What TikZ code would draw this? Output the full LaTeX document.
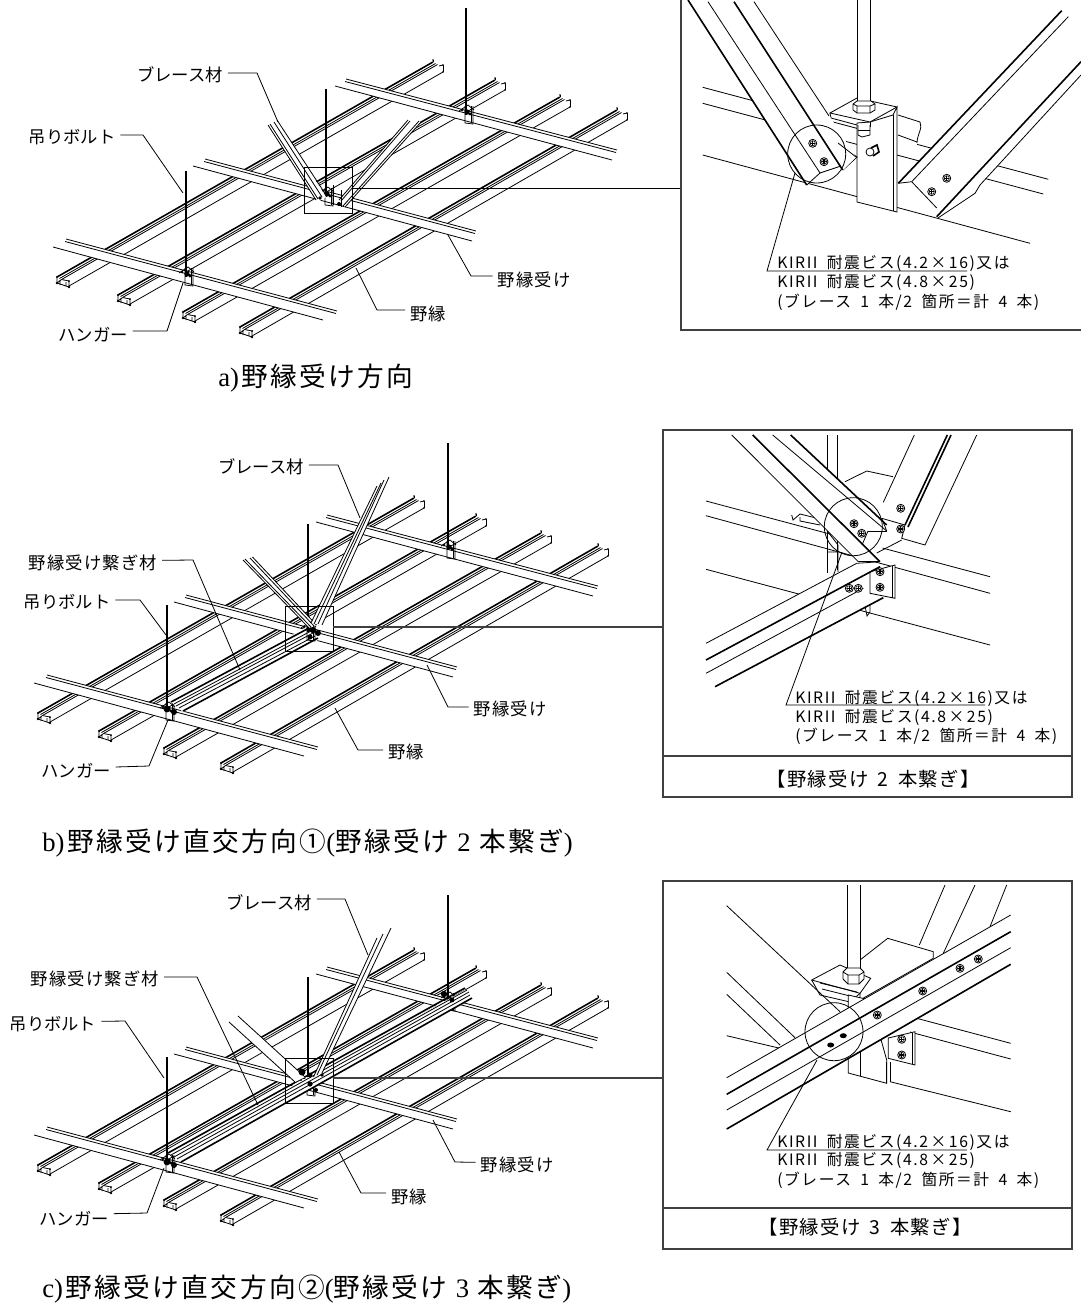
\documentclass[tikz,border=0pt]{standalone}
\usepackage{fontspec}
\setmainfont{Liberation Sans}
\newfontfamily\jpf{Noto Sans CJK JP}
\newfontfamily\jpl[LetterSpace=7]{Noto Sans CJK JP}
\newfontfamily\jpd[LetterSpace=10]{Noto Sans CJK JP}
\newfontfamily\jpc[LetterSpace=9]{Noto Sans CJK JP}
\newfontfamily\latc{Liberation Serif}
\newcommand\szl{\fontsize{13pt}{15pt}\selectfont}
\newcommand\szf{\fontsize{14.5pt}{16pt}\selectfont}
\newcommand\szc{\fontsize{20pt}{22pt}\selectfont}
\newcommand\szd{\fontsize{11.8pt}{13pt}\selectfont}
\newcommand\wsp{\hspace{7pt}}
\tikzset{
 thn/.style={line width=0.6pt,black},
 thk/.style={line width=1.2pt,black},
 ldr/.style={line width=0.6pt,black},
 boxl/.style={line width=0.9pt,black!75},
 kat/.style={font=\jpf\szl,inner ysep=0pt,inner xsep=3.5pt,black},
 kan/.style={font=\jpl\szl,inner ysep=0pt,inner xsep=3.5pt,black},
 captxt/.style={font=\jpc\szc,inner sep=0pt,anchor=west,black},
 det/.style={font=\jpd\szd,inner sep=0pt,anchor=west,black},
 foot/.style={font=\jpl\szf,inner sep=0pt,black},
 wf/.style={fill=white,draw=none},
}
% one furring channel: front point, far point
\newcommand\chan[4]{%
 \draw[thk] (#1,#2)--(#3,#4);
 \draw[thn] ([shift={(2.5,1.5)}]#1,#2)--([shift={(2.5,1.5)}]#3,#4);
 \draw[thn] ([shift={(4.5,2.5)}]#1,#2)--([shift={(4.5,2.5)}]#3,#4);
 \draw[thn] ([shift={(12,9)}]#1,#2)--([shift={(10,10)}]#3,#4);
 \draw[thn] (#1,#2)--([shift={(0,6)}]#1,#2)--([shift={(12,10)}]#1,#2)--([shift={(12,4)}]#1,#2)--([shift={(4.5,2.5)}]#1,#2);
 \draw[thn] ([shift={(0,6)}]#1,#2)--([shift={(4.5,2.5)}]#1,#2) ([shift={(3,3)}]#1,#2)--([shift={(3,8)}]#1,#2) ([shift={(9,5)}]#1,#2)--([shift={(9,9)}]#1,#2);
 \fill (#1,#2) circle[radius=1.1];
 \fill ([shift={(0,6)}]#1,#2) circle[radius=1.3];
 \fill ([shift={(12,10)}]#1,#2) circle[radius=1.3];
 \fill ([shift={(12,4)}]#1,#2) circle[radius=1];
 \draw[thn] (#3,#4)--([shift={(0,-2)}]#3,#4);
 \fill ([shift={(0,-2)}]#3,#4) circle[radius=0.9];
 \draw[thn] ([shift={(10,3)}]#3,#4)--([shift={(10,10)}]#3,#4);
 \draw[thn] ([shift={(6,4)}]#3,#4)--([shift={(10,3)}]#3,#4);
 \fill ([shift={(10,3)}]#3,#4) circle[radius=0.9] ([shift={(10,10)}]#3,#4) circle[radius=0.9];
}
% one carrying bar: top-left, top-right, bottom-left, bottom-right
\newcommand\cbar[8]{%
 \fill[wf] (#1,#2)--(#3,#4)--(#7,#8)--(#5,#6)--cycle;
 \draw[thn] (#1,#2)--(#3,#4);
 \draw[thn] ([shift={(-1,2.5)}]#1,#2)--([shift={(-1,2.5)}]#3,#4);
 \draw[thn] (#5,#6)--(#7,#8);
}
% rod and hanger: x, top y, bottom y of the hanger
\newcommand\rodh[3]{%
 \draw[thn] (#1,#2)--(#1,#3-8);
 \draw[thn] (#1+1.5,#2)--(#1+1.5,#3-8);
 \draw[thn] (#1,#3-17)--(#1,#3)--(#1+8,#3+1)--(#1+8,#3-17);
 \draw[thn] (#1+6,#3-17)--(#1+6,#3);
 \fill (#1+2,#3-11) circle[radius=2.6];
 \fill (#1+5,#3-9) circle[radius=1.7];
 \fill (#1-3,#3-13) circle[radius=1.4];
 \draw[thn] (#1-6,#3-12)--(#1+3,#3-18)--(#1+9,#3-13);
}
% the grid shared by the three perspectives
\newcommand\ceilgrid{%
 \chan{57}{277}{433}{62}
 \chan{118}{295}{495}{80}
 \chan{183}{312}{560}{97}
 \chan{240}{327}{617}{110}
 \cbar{66}{239}{337}{311}{53}{247}{323}{320}
 \cbar{205}{159}{476}{231}{193}{166}{472}{241}
 \cbar{346}{79}{617}{150}{335}{86}{612}{160}
}
\newcommand\screw[2]{%
 \draw[thn,fill=white] (#1,#2) circle[radius=4];
 \draw[line width=1pt] (#1-2.5,#2)--(#1+2.5,#2) (#1,#2-2.5)--(#1,#2+2.5);
 \draw[line width=0.4pt] (#1,#2) circle[radius=2.6];
}
\begin{document}
\begin{tikzpicture}[x=0.75pt,y=-0.75pt]
\useasboundingbox (0,0) rectangle (1081,1306);
\fill[white] (0,0) rectangle (1081,1306);

%%%%%%%% a %%%%%%%%
\ceilgrid
\rodh{465}{8}{123}
\rodh{325}{89}{205}
\rodh{185}{171}{285}
% braces
\fill[wf] (268,125)--(277,120)--(326,197)--(318,202)--cycle;
\draw[thn] (268,125)--(316,200) (270,124)--(318,199) (277,120)--(326,195) (274,122)--(322,197);
\fill[wf] (408,120)--(421,122)--(345,207)--(339,200)--cycle;
\draw[thn] (408,120)--(339,200) (410,121)--(341,201) (421,122)--(345,207) (419,121)--(343,206);
\draw[thn] (333,205)--(333,185) (341,190)--(341,207);
\fill (320,198) circle[radius=1.8] (339,204) circle[radius=2];
\draw[thn] (304,167) rectangle (352,213);
\coordinate (rA) at (352,188);
\draw[ldr] (rA)--(681,188);
\draw[boxl] (681,0)--(681,330)--(1081,330);

\node[kat] (A1) at (180,75) {ブレース材};
\draw[ldr] ([yshift=1.5pt]A1.east)--(257,73)--(278,122);
\node[kat] (A2) at (72,137) {吊りボルト};
\draw[ldr] ([yshift=1.5pt]A2.east)--(143,135)--(183,193);
\node[kat] (A3) at (93,335) {ハンガー};
\draw[ldr] ([yshift=3pt]A3.east)--(167,331)--(183,283);
\node[kan] (A4) at (534,280) {野縁受け};
\draw[ldr] ([yshift=3pt]A4.west)--(471,276)--(448,235);
\node[kan] (A5) at (428,314) {野縁};
\draw[ldr] ([yshift=3pt]A5.west)--(377,310)--(356,268);
\node[captxt] (capA) at (218,378) {{\latc a)}\hspace{2pt}野縁受け方向};

% detail a
\begin{scope}
\clip (682,0) rectangle (1081,329);
\draw[thn] (702.7,87.3)--(1048.3,179.3) (702.7,103.3)--(1043.3,194) (702.7,155)--(1030,243.3);
\fill[wf] (897,113) rectangle (917,145);
\draw[thn] (898,115)--(920,122) (898,135)--(917,142);
\draw[thn] (920,122)..controls (923,128) and (917,135)..(917,143);
% hanger
\draw[thn,fill=white] (857,123)--(857,202)--(897,212)--(897,107)--(893,115)--(870,122)--cycle;
\draw[thn] (893,115)--(893,211);
\draw[thn,fill=white] (830,113)--(857,98)--(897,107)--(870,122)--cycle;
\draw[thn] (830,113)--(831,118)--(857,125);
\draw[thn] (870,122)--(870,127);
\draw[thn,fill=white] (858,125)--(858,135)--(862,137)--(870,135)--(870,125);
\draw[thn] (858,130)--(870,130);
\draw[thn,fill=white] (857.3,0)--(857.3,102)--(870,102)--(870,0);
\draw[thn,fill=white] (853,104)--(857,101)--(871,101)--(875,104)--(875,110)--(870,113)--(857,113)--(853,110)--cycle;
\draw[thn] (857,113)--(857,106)--(853,104) (870,113)--(870,106)--(875,104) (857,106)--(870,106);
% bolt
\draw[thk] (871,148)--(877,145)--(879,152)--(873,156);
\draw[thn,fill=white] (870,152) circle[radius=4];
% triangle
\draw[thn] (838,143)--(857,157)--(843,170);
% left brace
\fill[wf] (688,0)--(754,0)--(856,157)--(843,170)--(820,173)--(806.7,185)--cycle;
\draw[thk] (688,0)--(806.7,185);
\draw[thn] (708,1.7)--(820,173);
\draw[thk] (734,1.7)--(842.7,170);
\draw[thn] (754,1.7)--(829,116);
\draw[thn] (838,143)--(856,157);
\draw[thn] (806.7,185)--(820,173)--(841,166);
\screw{812.7}{143.3}
\screw{824}{161.7}
\draw[thn] (816.7,154) circle[radius=29];
% right brace
\fill[wf] (1061.7,10.7)--(1068.3,16.7)--(1081,22)--(1081,75)--(980,185)--(975,193)--(938,218)--(936.7,208)--(911.7,181.7)--(898.3,183.3)--cycle;
\draw[thk] (1061.7,10.7)--(898.3,183.3);
\draw[thn] (1068.3,16.7)--(911.7,181.7);
\draw[thk] (1081,61.7)--(936.7,216.7);
\draw[thn] (1081,75)--(980,185)--(975,193.3)--(938,218);
\draw[thn] (898.3,183.3)--(911.7,181.7)--(936.7,208);
\screw{946.7}{178.3}
\screw{931.7}{191.7}
\end{scope}
\node[det] (Da1) at (777,263) {KIRII\wsp 耐震ビス(4.2\,×\,16)又は};
\node[det] (Da2) at (777,282) {KIRII\wsp 耐震ビス(4.8\,×\,25)};
\node[det] (Da3) at (777,302) {(ブレース\wsp 1\wsp 本/2\wsp 箇所＝計\wsp 4\wsp 本)};
\coordinate (Ca) at (795,173);
\draw[ldr] (967,271)--(767,271)--(Ca);

%%%%%%%% b %%%%%%%%
\begin{scope}[shift={(-19,436)}]
\ceilgrid
\end{scope}
\rodh{447}{443}{558}
\rodh{166}{605}{720}
% connector between hangers
\fill[wf] (171,702)--(309,626)--(318,640)--(183,712)--cycle;
\draw[thk] (171,702)--(309,628);
\draw[thn] (174,704)--(311,631) (176,706)--(313,633);
\draw[thn] (179,708)--(315,636);
\draw[thk] (183,711)--(318,638);
\rodh{307}{524}{640}
\fill[wf] (243,560)--(252.5,557)--(316.5,625)--(309,628)--cycle;
\draw[thn] (243,560)--(309,628) (245,559)--(311,627) (250,558)--(314,626) (252.5,557)--(316.5,625);
\fill[wf] (377,486)--(389,477)--(322,625)--(311,623)--cycle;
\draw[thn] (377,486)--(311,623) (381,483)--(314,624) (384,480)--(318,624) (389,477)--(322,625);
\fill (313,630) circle[radius=3.2] (318,633) circle[radius=3] (310,637) circle[radius=2.5];
\fill (167,709) circle[radius=3.4] (174,712) circle[radius=3];
\draw[thn] (285,606) rectangle (333,651);
\coordinate (rB) at (333,627);
\draw[boxl] (rB)--(663,627);
\draw[boxl] (663,430) rectangle (1072,797);
\draw[boxl] (663,756)--(1072,756);

\node[kat] (B1) at (261,467) {ブレース材};
\draw[ldr] ([yshift=1.5pt]B1.east)--(338,465)--(360,518);
\node[kan] (B2) at (93,563) {野縁受け繋ぎ材};
\draw[ldr] ([yshift=2pt]B2.east)--(193,560)--(240,670);
\node[kat] (B3) at (67,602) {吊りボルト};
\draw[ldr] ([yshift=1.5pt]B3.east)--(140,600)--(166,635);
\node[kat] (B4) at (76,771) {ハンガー};
\draw[ldr] ([yshift=3pt]B4.east)--(149,766)--(168,720);
\node[kan] (B5) at (510,709) {野縁受け};
\draw[ldr] ([yshift=1.5pt]B5.west)--(448,707)--(427,665);
\node[kan] (B6) at (406,752) {野縁};
\draw[ldr] ([yshift=1.5pt]B6.west)--(358,750)--(335,708);
\node[captxt] (capB) at (42,843) {{\latc b)}\hspace{2pt}野縁受け直交方向①{\latc (}野縁受け {\latc 2} 本繋ぎ{\latc )}};

% detail b
\draw[thn] (706,501)--(990,576.7) (706,515.7)--(990,593.3) (706,569.3)--(990,645);
\draw[thn] (827.7,435)--(827.7,573) (837.7,435)--(837.7,570);
\draw[thn] (845,481.7)--(866.7,471)--(893,476.7);
\draw[thn] (791.7,515)--(793,520)--(800,514)--(820,519);
\draw[thn] (800,517)--(800,521)--(820,525);
\draw[thn] (828,532)--(838,545)--(838,572) (828,552)--(838,552);
\draw[thn] (864,601)--(867,616)--(870,612)--(870,600);
% left brace
\fill[wf] (731.7,435)--(790.7,435)--(886.7,525)--(880,561.7)--(858.3,561.7)--cycle;
\draw[thn] (731.7,435)--(858.3,561.7);
\draw[thk] (752.7,435)--(880,561.7);
\draw[thn] (772.7,435)--(886.7,531);
\draw[thk] (790.7,435)--(886.7,525);
\draw[thn] (858.3,561.7)--(880,561.7);
\draw[thn] (868,531)--(886.7,531);
\draw[thn] (868,531)--(862,545);
\screw{854}{523.7}
\screw{861.7}{533.3}
\draw[thn] (853.3,526.7) circle[radius=29];
% right brace
\fill[wf] (914.3,435)--(976.7,435)--(925,545)--(901.7,538.3)--(881.7,518.3)--cycle;
\draw[thn] (914.3,435)--(883.3,502.3);
\draw[thk] (947.3,435)--(905,525);
\draw[thk] (951,435)--(908,527);
\draw[thn] (976.7,435)--(925,545)--(901.7,538.3)--(905,525)--(881.7,518.3);
\draw[thn] (881.7,518.3)--(886.7,531);
\draw[thn] (876.7,553)--(901.7,540);
\screw{900.7}{508.3}
\screw{900.7}{529}
% channel
\fill[wf] (706,643.3)--(856.7,563.3)--(880,566.7)--(883.3,597.7)--(715,686.7)--(706,690)--cycle;
\draw[thn,fill=white] (870,571.7)--(895,565)--(895,598.3)--(870,593.3)--cycle;
\draw[thn] (892,566)--(892,598);
\draw[thn] (706,643.3)--(856.7,563.3);
\draw[thk] (706,660)--(880,566.7);
\draw[thn] (706,673.3)--(863.3,588.3);
\draw[thk] (715,686.7)--(883.3,597.7);
\draw[thn] (856.7,563.3)--(880,561.7);
\screw{880}{571.7}
\screw{880}{587.3}
\screw{849.3}{588.3}
\screw{858.3}{588.3}
\node[det] (Db1) at (795,698) {KIRII\wsp 耐震ビス(4.2\,×\,16)又は};
\node[det] (Db2) at (795,717) {KIRII\wsp 耐震ビス(4.8\,×\,25)};
\node[det] (Db3) at (795,736) {(ブレース\wsp 1\wsp 本/2\wsp 箇所＝計\wsp 4\wsp 本)};
\coordinate (Cb) at (842,552);
\draw[ldr] (985,705)--(786,705)--(Cb);
\node[foot] (Fb) at (873,779) {【野縁受け\wsp 2\wsp 本繋ぎ】};

%%%%%%%% c %%%%%%%%
\begin{scope}[shift={(-19,888)}]
\ceilgrid
\end{scope}
\rodh{447}{895}{1010}
\rodh{166}{1057}{1172}
\rodh{307}{977}{1095}
\fill[wf] (171,1153)--(465,990)--(472,998)--(183,1162)--cycle;
\draw[thk] (168,1153)--(465,988);
\draw[thn] (171,1155)--(467,990) (174,1157)--(469,992);
\draw[thn] (177,1159)--(470,995);
\draw[thk] (181,1162)--(472,998);
\fill[wf] (229,1022)--(238,1016)--(305,1077)--(295,1082)--cycle;
\draw[thn] (229,1022)--(295,1082) (238,1016)--(305,1077);
\fill[wf] (377,938)--(391,928)--(322,1073)--(313.5,1077)--cycle;
\draw[thn] (377,938)--(313.5,1077) (383,934)--(317,1075) (391,928)--(322,1073);
\fill (302,1072) circle[radius=3.5] (310,1075) circle[radius=2.5] (310,1084) circle[radius=2.6] (316,1090) circle[radius=2] (322,1075) circle[radius=1.8];
\fill (167,1162) circle[radius=3.4] (174,1165) circle[radius=3];
\fill (444,994) circle[radius=3.2] (452,1000) circle[radius=2.4];
\draw[thn] (285,1058) rectangle (333,1103);
\coordinate (rC) at (333,1078);
\draw[boxl] (rC)--(663,1078);
\draw[boxl] (663,881) rectangle (1072,1249);
\draw[boxl] (663,1208)--(1072,1208);

\node[kat] (C1) at (269,903) {ブレース材};
\draw[ldr] ([yshift=3pt]C1.east)--(345,899)--(368,955);
\node[kan] (C2) at (95,979) {野縁受け繋ぎ材};
\draw[ldr] ([yshift=1.5pt]C2.east)--(197,977)--(258,1105);
\node[kat] (C3) at (53,1024) {吊りボルト};
\draw[ldr] ([yshift=2pt]C3.east)--(125,1021)--(164,1078);
\node[kat] (C4) at (74,1219) {ハンガー};
\draw[ldr] ([yshift=4pt]C4.east)--(147,1213)--(164,1168);
\node[kan] (C5) at (517,1165) {野縁受け};
\draw[ldr] ([yshift=2pt]C5.west)--(455,1162)--(433,1120);
\node[kan] (C6) at (409,1197) {野縁};
\draw[ldr] ([yshift=3pt]C6.west)--(361,1193)--(339,1152);
\node[captxt] (capC) at (42,1289) {{\latc c)}\hspace{2pt}野縁受け直交方向②{\latc (}野縁受け {\latc 3} 本繋ぎ{\latc )}};

% detail c
\draw[thn] (726.7,905.7)--(840,1011.7) (726.7,972.3)--(795,1037.7) (726.7,994.3)--(780,1045) (726.7,1035.7)--(780,1048.3);
\draw[thn] (916.7,1018.3)--(1010.7,1043.3) (910,1032)--(1010.7,1059) (890,1081.7)--(1010.7,1111.7);
\draw[thn] (945,885)--(919.3,945) (975,885)--(943.3,953.3) (1006.7,885)--(990,926.7);
\draw[thn,fill=white] (860,960)--(887.7,938.3)--(933.3,951.7)--(933.3,958.3)--(860,1000)--cycle;
\draw[thn,fill=white] (811.7,980)--(840,965)--(870.7,978.3)--(860,993.3)--cycle;
\draw[thn] (811.7,980)--(820,995)--(850,1002)--(860,993.3);
\draw[thn] (820,983)--(857,992) (822,989)--(850,996);
\draw[thn,fill=white] (847.3,885)--(847.3,973)--(860,973)--(860,885);
\draw[thn,fill=white] (843,972)--(847,968)--(860,968)--(864,972)--(864,979)--(859,984)--(848,984)--(843,979)--cycle;
\draw[thn] (848,984)--(848,975)--(843,972) (859,984)--(859,975)--(864,972) (848,975)--(859,975);
\draw[thn,fill=white] (848.3,995)--(848.3,1073)--(886.7,1083.3)--(886.7,1060)--(870,1000)--cycle;
\draw[thn] (860,1050)--(860,1076) (886.7,1062)--(886.7,1083) (890,1062)--(890,1082);
\draw[thn,fill=white] (888.3,1038)--(915,1031.7)--(915,1065)--(888.3,1058.3)--cycle;
\draw[thn] (912,1033)--(912,1064);
\screw{901.7}{1039.3}
\screw{901.7}{1055}
% channel
\fill[wf] (726.7,1077.7)--(1010.7,915)--(1010.7,964.3)--(726.7,1129)--cycle;
\draw[thn] (726.7,1077.7)--(1010.7,915);
\draw[thk] (726.7,1094.3)--(1010.7,931.7);
\draw[thn] (726.7,1110)--(1010.7,947.7);
\draw[thk] (726.7,1129)--(1010.7,964.3);
\screw{978.3}{959}
\screw{960}{968.3}
\screw{922.7}{991}
\screw{877.3}{1015}
\fill (843.3,1035.7) ellipse[x radius=3.5,y radius=2.5] (830.7,1045) ellipse[x radius=3.5,y radius=2.5];
\draw[thn] (834,1031.7) circle[radius=29];
\node[det] (Dc1) at (777,1142) {KIRII\wsp 耐震ビス(4.2\,×\,16)又は};
\node[det] (Dc2) at (777,1160) {KIRII\wsp 耐震ビス(4.8\,×\,25)};
\node[det] (Dc3) at (777,1180) {(ブレース\wsp 1\wsp 本/2\wsp 箇所＝計\wsp 4\wsp 本)};
\coordinate (Cc) at (817,1060);
\draw[ldr] (967,1150)--(767,1150)--(Cc);
\node[foot] (Fc) at (865,1227) {【野縁受け\wsp 3\wsp 本繋ぎ】};
\end{tikzpicture}
\end{document}
